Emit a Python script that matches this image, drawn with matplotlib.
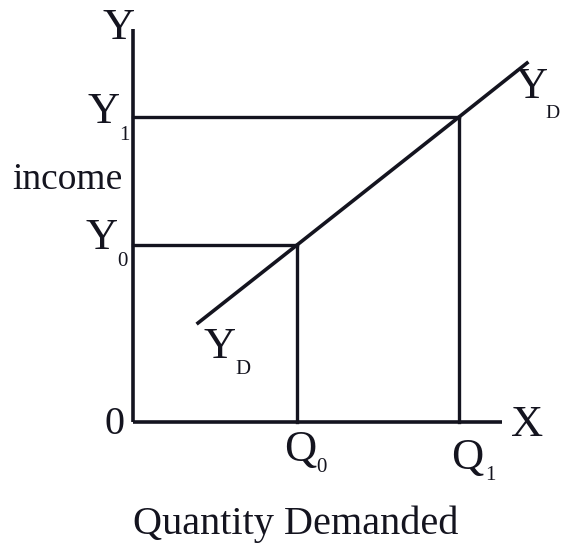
import matplotlib
matplotlib.use("Agg")
import matplotlib.pyplot as plt

# income-demand diagram (units are arbitrary, origin at 0)
q_vals = [164, 326]          # Q0, Q1
y_vals = [177, 305]          # Y0, Y1
yd_q = [65, 164, 326, 394]   # income-demand curve YD
yd_y = [99, 177, 305, 359]
x_axis_end = 369
y_axis_end = 393

ink = "#14141f"
serif = ["Liberation Serif", "DejaVu Serif"]

fig = plt.figure(figsize=(5.62, 5.46), dpi=100)
ax = fig.add_axes([0, 0, 1, 1])
ax.set_xlim(-133, 429)
ax.set_ylim(-124, 422)
ax.axis("off")

# axes
ax.plot([0, 0], [0, y_axis_end], color=ink, lw=2.6, solid_capstyle="butt")
ax.plot([0, x_axis_end], [0, 0], color=ink, lw=2.6, solid_capstyle="butt")

# guide lines
for q, y in zip(q_vals, y_vals):
    ax.plot([0, q], [y, y], color=ink, lw=2.4)
    ax.plot([q, q], [0, y], color=ink, lw=2.4)

# YD curve
ax.plot(yd_q, yd_y, color=ink, lw=2.6)


def label(px, py, s, size=32):
    # px, py are picture positions, turned into data units
    ax.text(px - 133, 422 - py, s, fontsize=size, family=serif,
            ha="center", va="center", color=ink)


label(119, 28, "Y")
label(104, 112, "Y")
label(124, 135, "1", 15)
label(67, 180, "income", 27)
label(102, 238, "Y")
label(122, 261, "0", 15)
label(115, 425, "0", 29)
label(527, 425, "X")
label(300, 450, "Q")
label(321, 468, "0", 15)
label(467, 458, "Q")
label(490, 476, "1", 15)
label(220, 347, "Y")
label(243, 369, "D", 15)
label(532, 87, "Y")
label(552, 113, "D", 14)
label(296, 524, "Quantity Demanded", 29)

fig.savefig("out.png", dpi=100)
